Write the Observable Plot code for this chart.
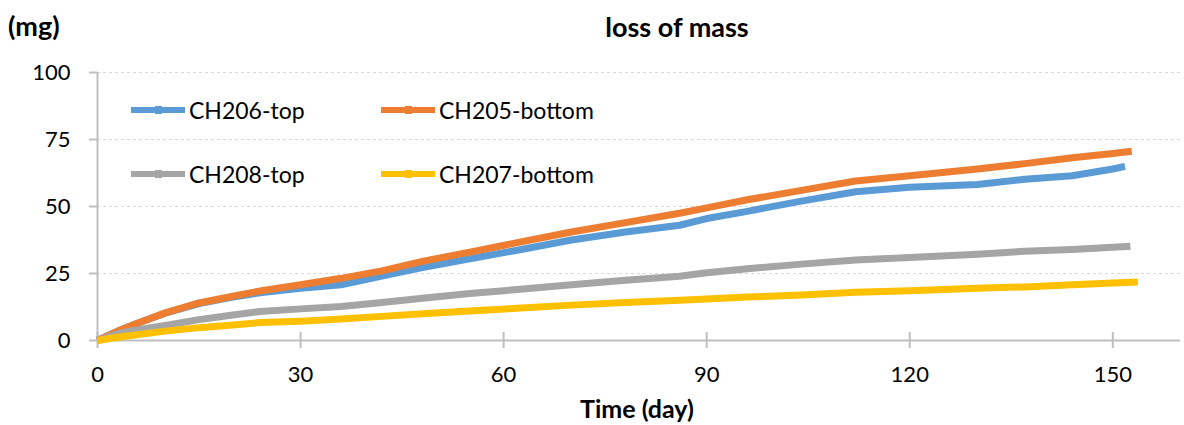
<!DOCTYPE html>
<html>
<head>
<meta charset="utf-8">
<script src="https://cdn.jsdelivr.net/npm/d3@7"></script>
<script src="https://cdn.jsdelivr.net/npm/@observablehq/plot@0.6"></script>
<style>
  body { margin: 0; background: #fff; }
  #wrap { position: relative; width: 1184px; height: 425px; font-family: Lato, "Open Sans", sans-serif; color: #000; overflow: hidden; }
  #head { position: relative; height: 55px; }
  .t { position: absolute; white-space: nowrap; font-weight: bold; font-size: 24px; }
  #legend { position: absolute; left: 0; top: 0; }
  .li { position: absolute; display: flex; align-items: center; font-size: 23px; white-space: nowrap; }
  .li svg { margin-right: 4px; }
</style>
</head>
<body>
<div id="wrap">
  <div id="head">
    <div class="t" style="left:8px; top:9px; font-size:27px;">(mg)</div>
    <div class="t" style="left:677px; top:10px; transform:translateX(-50%); font-size:27px;">loss of mass</div>
  </div>
  <div id="chart"></div>
  <div class="t" style="left:637px; top:393px; transform:translateX(-50%); font-size:25px;">Time (day)</div>
  <div id="legend"></div>
</div>
<script>
// ---- data ----
const seriesNames = ["CH206-top", "CH205-bottom", "CH208-top", "CH207-bottom"];
const seriesColors = ["#5b9bd5", "#ed7d31", "#a5a5a5", "#ffc000"];
const days = [0, 3, 6, 10, 15, 20, 24, 30, 36, 42, 48, 55, 62, 70, 78, 86, 90, 96, 104, 112, 120, 130, 137, 144, 150];
const ch206Top = [0, 3.5, 6.5, 10.2, 13.8, 16.2, 17.8, 19.5, 20.8, 24, 27.2, 30.5, 33.7, 37.5, 40.5, 43, 45.5, 48.2, 52, 55.5, 57.2, 58.2, 60.2, 61.5, 64];
const ch205Bottom = [0, 3.5, 6.5, 10.3, 14, 16.5, 18.5, 20.8, 23.2, 26, 29.5, 33, 36.5, 40.5, 44, 47.5, 49.5, 52.5, 56, 59.5, 61.5, 64, 66, 68.2, 69.8];
const ch208Top = [0, 2.5, 4, 5.6, 7.8, 9.5, 10.8, 11.8, 12.7, 14.2, 15.8, 17.5, 19, 20.8, 22.5, 24, 25.3, 26.8, 28.5, 30, 31, 32.2, 33.3, 34, 34.8];
const ch207Bottom = [0, 1.2, 2.2, 3.5, 4.8, 5.8, 6.7, 7.2, 8, 9, 10, 11, 12, 13.2, 14.2, 15, 15.5, 16.2, 17, 18, 18.6, 19.5, 20, 20.8, 21.5];
const endDays = [151.8, 152.8, 152.6, 153.7];
const endValues = [65, 70.6, 35.2, 21.8];
const xTicks = [0, 30, 60, 90, 120, 150];
const yTicks = [0, 25, 50, 75, 100];

const allSeries = [ch206Top, ch205Bottom, ch208Top, ch207Bottom];
const rows = [];
allSeries.forEach((vals, i) => {
  days.forEach((d, j) => rows.push({series: seriesNames[i], day: d, mass: vals[j]}));
  rows.push({series: seriesNames[i], day: endDays[i], mass: endValues[i]});
});

const axisGray = "#bfbfbf";
const chart = Plot.plot({
  width: 1184,
  height: 370,
  marginTop: 17,
  marginBottom: 85,
  marginLeft: 97,
  marginRight: 4,
  style: {fontFamily: "Lato, 'Open Sans', sans-serif", fontSize: "22px", color: "#000", background: "#fff"},
  x: {domain: [0, 160], label: null},
  y: {domain: [0, 100], label: null},
  color: {domain: seriesNames, range: seriesColors},
  marks: [
    Plot.gridY(yTicks.filter(d => d > 0), {stroke: "#d9d9d9", strokeOpacity: 1, strokeWidth: 1, strokeDasharray: "3,3"}),
    Plot.ruleY([0], {stroke: axisGray, strokeWidth: 2}),
    Plot.ruleX([0], {stroke: axisGray, strokeWidth: 2}),
    Plot.ruleX(xTicks, {x: d => d, y1: -3, y2: 3, stroke: axisGray, strokeWidth: 2}),
    Plot.axisY({ticks: yTicks, tickSize: 8, tickPadding: 19, stroke: axisGray, strokeWidth: 2, fill: "#000", label: null}),
    Plot.axisX({ticks: xTicks, tickSize: 0, tickPadding: 26, fill: "#000", label: null}),
    Plot.line(rows, {x: "day", y: "mass", z: "series", stroke: "series", strokeWidth: 7, strokeLinejoin: "round", strokeLinecap: "butt"})
  ]
});
document.getElementById("chart").appendChild(chart);

// ---- legend (inside plot area) ----
const legendPos = [[131, 110], [381, 110], [131, 174], [381, 174]];
const legend = document.getElementById("legend");
seriesNames.forEach((name, i) => {
  const [lx, ly] = legendPos[i];
  const div = document.createElement("div");
  div.className = "li";
  div.style.left = lx + "px";
  div.style.top = (ly - 15) + "px";
  div.style.height = "30px";
  div.innerHTML = `<svg width="54" height="10"><line x1="0" y1="5" x2="54" y2="5" stroke="${seriesColors[i]}" stroke-width="6"/><rect x="24" y="1" width="7" height="8" fill="${seriesColors[i]}"/></svg><span>${name}</span>`;
  legend.appendChild(div);
});
</script>
</body>
</html>
